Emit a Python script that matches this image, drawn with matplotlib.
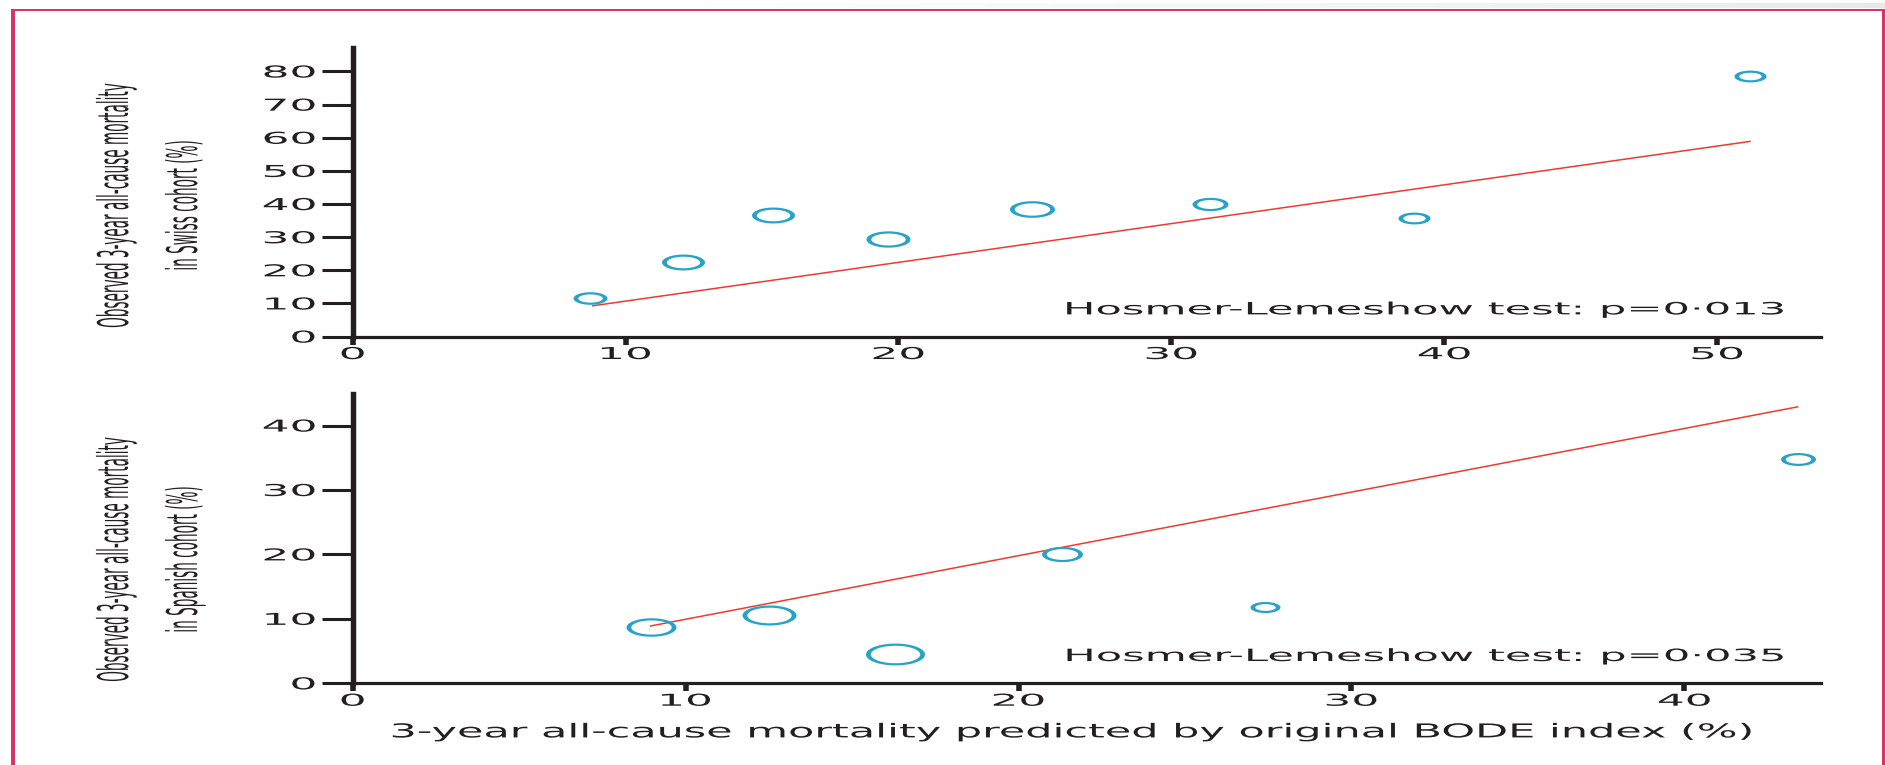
import numpy as np
import matplotlib
matplotlib.use("Agg")
import matplotlib.pyplot as plt
from matplotlib import patheffects
from matplotlib.path import Path
from matplotlib.transforms import Affine2D
from matplotlib.patches import Rectangle

# Swiss cohort: predicted vs observed 3-year mortality (%)
swiss_pred = [8.7, 12.1, 15.4, 19.6, 24.9, 31.4, 38.9, 51.2]
swiss_obs = [11.6, 22.6, 36.7, 29.4, 38.5, 40.1, 35.8, 78.6]
swiss_fit_x = [8.8, 51.2]
swiss_fit_y = [9.3, 58.9]
swiss_p = "0·013"

# Spanish cohort
spain_pred = [8.95, 12.5, 16.3, 21.3, 27.4, 43.4]
spain_obs = [8.7, 10.65, 4.55, 20.0, 11.8, 34.8]
spain_fit_x = [8.95, 43.4]
spain_fit_y = [8.9, 42.9]
spain_p = "0·035"

# marker widths (px) as drawn in the figure
swiss_w = [34, 43, 43, 44, 45, 36, 32, 32]
spain_w = [50, 54, 59, 41, 30, 35]

CYAN = "#27a3c9"
RED = "#ee3b2e"
INK = "#231f20"
PINK = "#d8336a"

plt.rcParams["font.family"] = "DejaVu Sans"
plt.rcParams["text.color"] = INK


class Stretch(patheffects.AbstractPathEffect):
    """Widen glyphs horizontally (the original figure is stretched)."""
    def __init__(self, sx, mode="center", ref=None):
        super().__init__()
        self.sx, self.mode, self.ref = sx, mode, ref

    def draw_path(self, renderer, gc, tpath, affine, rgbFace=None):
        if self.ref is not None:
            bb = self.ref.get_window_extent(renderer)
        else:
            bb = tpath.get_extents(affine)
        x0 = {"left": bb.x0, "center": 0.5 * (bb.x0 + bb.x1), "right": bb.x1}[self.mode]
        aff = affine + Affine2D().translate(-x0, 0).scale(self.sx, 1).translate(x0, 0)
        renderer.draw_path(gc, tpath, aff, rgbFace)


def ring(w, aspect=2.7, tv=2.2, th=4.8):
    t = np.linspace(0, 2 * np.pi, 73)
    a, b = w / 2, w / 2 / aspect
    outer = np.column_stack([a * np.cos(t), b * np.sin(t)])
    inner = np.column_stack([(a - th) * np.cos(t[::-1]), (b - tv) * np.sin(t[::-1])])
    return Path.make_compound_path(Path(outer, closed=True), Path(inner, closed=True))


fig = plt.figure(figsize=(18.85, 7.65), dpi=100)

# page frame
bg = fig.add_axes([0, 0, 1, 1], zorder=-1)
bg.set_xlim(0, 1885)
bg.set_ylim(765, 0)
bg.axis("off")
grad = np.linspace(0, 1, 256)[None, :] ** 1.2
bg.imshow(grad, extent=(560, 1885, 8.3, 3.3), cmap="Greys", vmin=0, vmax=6, aspect="auto")
bg.add_patch(Rectangle((11, 9.3), 4, 760, color=PINK, lw=0))
bg.add_patch(Rectangle((11, 9.3), 1874, 2, color=PINK, lw=0))
bg.add_patch(Rectangle((1882, 9.3), 3, 760, color=PINK, lw=0))

ax1 = fig.add_axes([0.1871, 0.5600, 0.7789, 0.3773])
ax2 = fig.add_axes([0.1871, 0.1068, 0.7789, 0.3782])


def style(ax, xmax, ymax, yticks, xticks):
    ax.set_xlim(0, xmax)
    ax.set_ylim(0, ymax)
    for s in ("top", "right"):
        ax.spines[s].set_visible(False)
    ax.spines["left"].set_linewidth(3.9)
    ax.spines["bottom"].set_linewidth(2.3)
    ax.spines["left"].set_color(INK)
    ax.spines["bottom"].set_color(INK)
    ax.set_yticks(yticks)
    ax.set_xticks(xticks)
    ax.tick_params(axis="y", length=22.3, width=2.2, pad=4.4, color=INK,
                   labelsize=11.8, labelcolor=INK)
    ax.tick_params(axis="x", length=6, width=4, pad=1.5, color=INK,
                   labelsize=11.8, labelcolor=INK)
    for t in ax.get_yticklabels():
        t.set_path_effects([Stretch(2.68, "right")])
    for t in ax.get_xticklabels():
        t.set_path_effects([Stretch(2.68, "center")])


def panel(ax, px, py, widths, fx, fy, pval, ylabel, ylab_y):
    ax.plot(fx, fy, color=RED, lw=1.1, zorder=2)
    for x, y, w in zip(px, py, widths):
        ax.plot([x], [y], ls="none", marker=ring(w), markersize=w * 0.72,
                mfc=CYAN, mec="none", mew=0, zorder=3)
    txt = ax.text(0.974, 0.077, "Hosmer-Lemeshow test: p=" + pval, transform=ax.transAxes,
                  ha="right", va="baseline", fontsize=12.2, color=INK)
    txt.set_path_effects([Stretch(2.55, "right")])
    ax.set_ylabel(ylabel, fontsize=9.8, color=INK, va="center", ha="center",
                  linespacing=1.75)
    ax.yaxis.set_label_coords(-0.138, ylab_y)
    ax.yaxis.label.set_path_effects([Stretch(3.1, "center", ref=ax.yaxis.label)])


style(ax1, 53.8, 87.1, range(0, 81, 10), range(0, 51, 10))
panel(ax1, swiss_pred, swiss_obs, swiss_w, swiss_fit_x, swiss_fit_y, swiss_p,
      "Observed 3-year all-cause mortality\nin Swiss cohort (%)", 0.456)

style(ax2, 44.1, 44.9, range(0, 41, 10), range(0, 41, 10))
panel(ax2, spain_pred, spain_obs, spain_w, spain_fit_x, spain_fit_y, spain_p,
      "Observed 3-year all-cause mortality\nin Spanish cohort (%)", 0.430)

ax2.set_xlabel("3-year all-cause mortality predicted by original BODE index (%)",
               fontsize=13.8, color=INK, va="center")
ax2.xaxis.set_label_coords(0.489, -0.168)
ax2.xaxis.label.set_path_effects([Stretch(2.24, "center", ref=ax2.xaxis.label)])

fig.savefig("out.png", dpi=100)
